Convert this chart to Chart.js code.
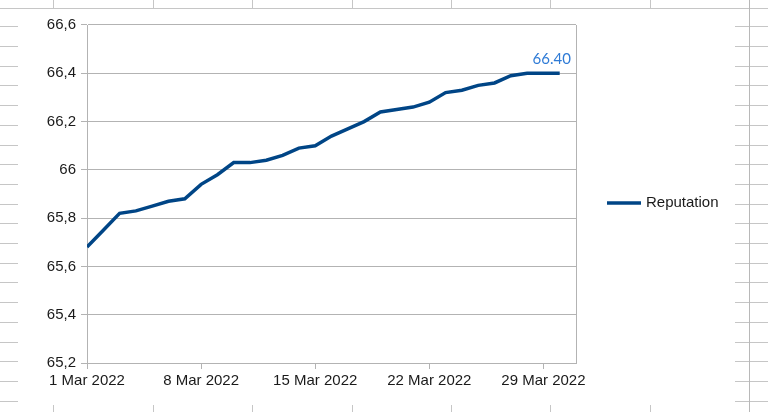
<!DOCTYPE html>
<html>
<head>
<meta charset="utf-8">
<script src="https://cdn.jsdelivr.net/npm/chart.js@4.4.1/dist/chart.umd.min.js"></script>
<style>
  html, body { margin: 0; padding: 0; background: #fff; }
  body { width: 768px; height: 412px; position: relative; overflow: hidden; }
  .hl { position: absolute; height: 1px; background: #c6c6c6; }
  .vl { position: absolute; width: 1px; background: #c6c6c6; }
  #chartBox { position: absolute; left: 18px; top: 9px; width: 717px; height: 396px; background: #fff; }
  #wrap { position: absolute; left: 0; top: 0; width: 768px; height: 412px; }
</style>
</head>
<body>
<div id="sheet"></div>
<div id="chartBox"></div>
<div id="wrap"><canvas id="chart" width="768" height="412"></canvas></div>
<script>
  // day of March 2022
  const days = [1, 2, 3, 4, 5, 6, 7, 8, 9, 10, 11, 12, 13, 14, 15,
    16, 17, 18, 19, 20, 21, 22, 23, 24, 25, 26, 27, 28, 29, 30];
  const reputation = [65.68, 65.75, 65.82, 65.83, 65.85, 65.87, 65.88, 65.94, 65.98, 66.03,
    66.03, 66.04, 66.06, 66.09, 66.10, 66.14, 66.17, 66.20, 66.24, 66.25,
    66.26, 66.28, 66.32, 66.33, 66.35, 66.36, 66.39, 66.40, 66.40, 66.40];
  const xTickDays = [1, 8, 15, 22, 29];
  const seriesName = "Reputation";

  const lineColor = "#004586";
  const gridColor = "#b3b3b3";
  const textColor = "#1a1a1a";
  const font = { family: "'Liberation Sans', Arial, sans-serif", size: 15 };

  // spreadsheet cells peeking out around the chart object
  (function drawSheet() {
    const sheet = document.getElementById("sheet");
    function add(cls, css) {
      const el = document.createElement("div");
      el.className = cls;
      Object.assign(el.style, css);
      sheet.appendChild(el);
    }
    add("hl", { left: "0px", top: "8px", width: "768px" });
    for (let k = 1; k <= 20; k++) {
      const y = Math.round(6.6 + k * 19.7) + "px";
      add("hl", { left: "0px", top: y, width: "768px" });
    }
    [53, 153, 252, 352, 451, 550, 650, 749].forEach((x) => {
      add("vl", { left: x + "px", top: "0px", height: "412px", background: x === 749 ? "#b8b8b8" : "#c6c6c6" });
    });
  })();

  function dayLabel(d) {
    return d + " Mar 2022";
  }

  function yLabel(v) {
    return String(+v.toFixed(1)).replace(".", ",");
  }

  const frameAndLegend = {
    id: "frameAndLegend",
    afterDraw(chart) {
      const { ctx, chartArea } = chart;
      ctx.save();
      // right border of the plot area
      ctx.strokeStyle = gridColor;
      ctx.lineWidth = 1;
      ctx.beginPath();
      ctx.moveTo(Math.round(chartArea.right) + 0.5, chartArea.top);
      ctx.lineTo(Math.round(chartArea.right) + 0.5, chartArea.bottom);
      ctx.stroke();

      // legend
      const ds = chart.data.datasets[0];
      const ly = 203;
      ctx.strokeStyle = ds.borderColor;
      ctx.lineWidth = 3.5;
      ctx.beginPath();
      ctx.moveTo(607, ly);
      ctx.lineTo(641, ly);
      ctx.stroke();
      ctx.fillStyle = textColor;
      ctx.font = font.size + "px " + font.family;
      ctx.textBaseline = "middle";
      ctx.textAlign = "left";
      ctx.fillText(ds.label, 646, ly);

      // value label on the last point
      const meta = chart.getDatasetMeta(0);
      const last = meta.data[meta.data.length - 1];
      const v = ds.data[ds.data.length - 1].y;
      ctx.fillStyle = "#2f7bd6";
      ctx.font = "15px Lato, 'Open Sans', sans-serif";
      ctx.textAlign = "center";
      ctx.textBaseline = "alphabetic";
      ctx.fillText(v.toFixed(2), last.x - 8, last.y - 9);
      ctx.restore();
    }
  };

  new Chart(document.getElementById("chart"), {
    type: "line",
    data: {
      datasets: [{
        label: seriesName,
        data: days.map((d, i) => ({ x: d, y: reputation[i] })),
        borderColor: lineColor,
        borderWidth: 3.5,
        pointRadius: 0,
        tension: 0,
        fill: false
      }]
    },
    options: {
      responsive: false,
      animation: false,
      layout: { padding: { top: 25, right: 192, bottom: 0, left: 0 } },
      plugins: { legend: { display: false }, tooltip: { enabled: false } },
      scales: {
        x: {
          type: "linear",
          min: 1,
          max: 31,
          afterBuildTicks(scale) {
            scale.ticks = xTickDays.map((d) => ({ value: d }));
          },
          afterFit(scale) { scale.height = 49; },
          ticks: {
            autoSkip: false,
            maxRotation: 0,
            padding: 3,
            color: textColor,
            font: font,
            callback: (v) => dayLabel(v)
          },
          grid: { drawOnChartArea: false, color: gridColor, tickLength: 6 },
          border: { color: gridColor }
        },
        y: {
          min: 65.2,
          max: 66.6,
          afterBuildTicks(scale) {
            const t = [];
            for (let k = 0; k <= 7; k++) t.push({ value: 65.2 + k * 0.2 });
            scale.ticks = t;
          },
          afterFit(scale) { scale.width = 87; },
          ticks: {
            padding: 5,
            color: textColor,
            font: font,
            callback: (v) => yLabel(v)
          },
          grid: { color: gridColor, tickLength: 6 },
          border: { color: gridColor }
        }
      }
    },
    plugins: [frameAndLegend]
  });
</script>
</body>
</html>
